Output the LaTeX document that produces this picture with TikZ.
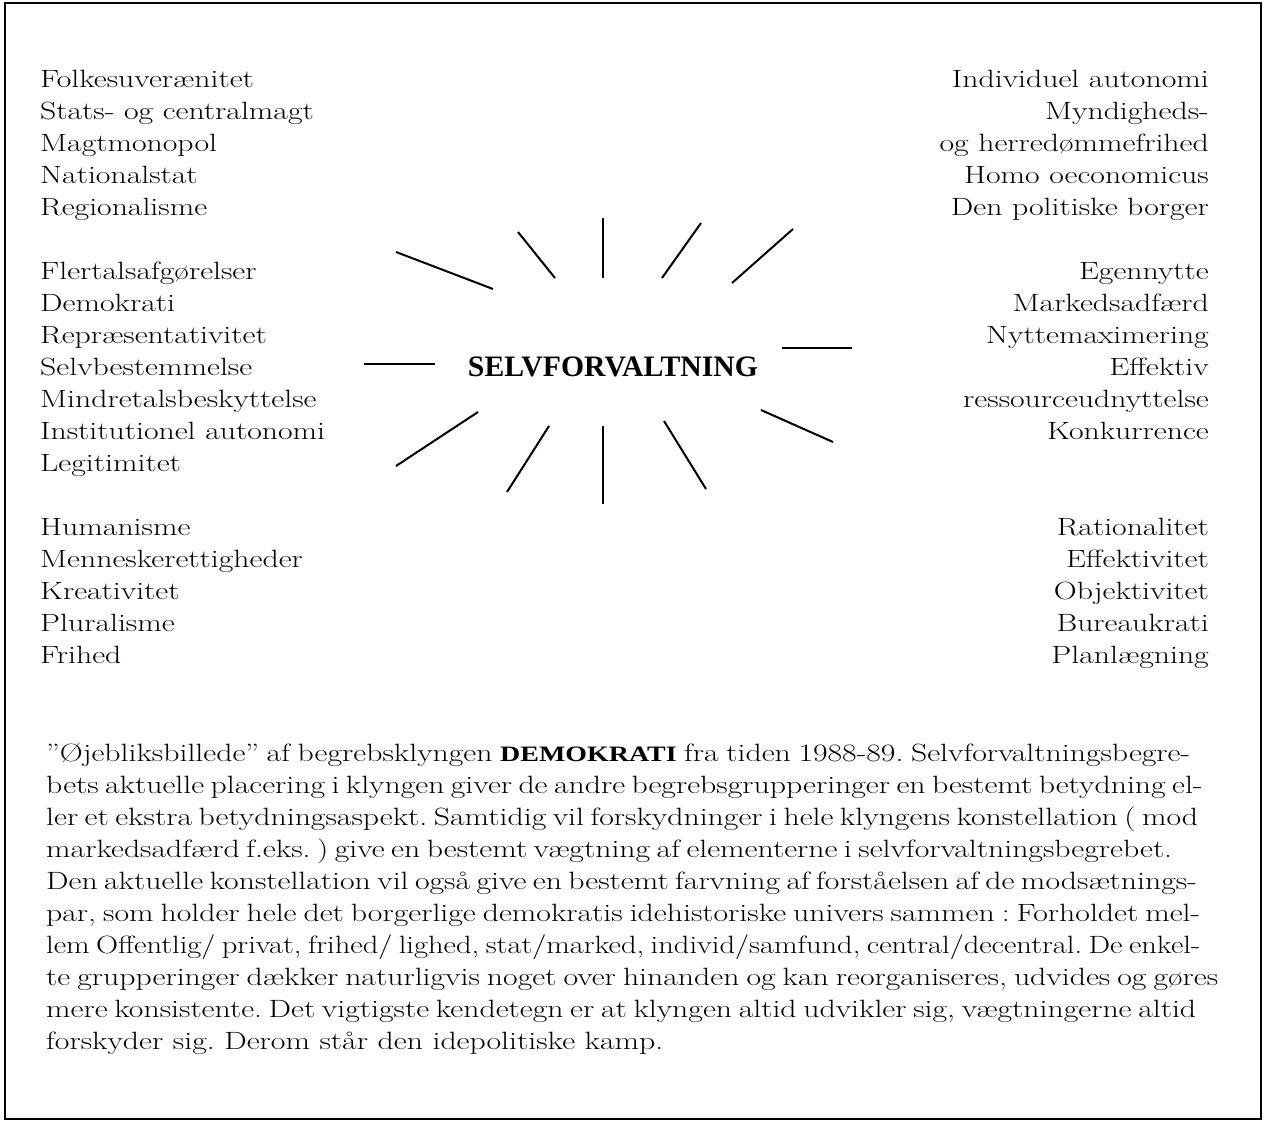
\documentclass[tikz,border=0pt]{standalone}
\usepackage{fontspec}
\usepackage{graphicx}
\setmainfont{Latin Modern Roman}
\newfontfamily\headfont{Liberation Serif}
\newcommand\sx[1]{\scalebox{1.27}[1]{#1}}
\newcommand\pl[2]{\scalebox{1.27}[1]{\hbox to \dimexpr #1pt*100/127\relax{#2}}}
\newcommand\plx[3]{\scalebox{#1}[1]{\hbox to \dimexpr #2pt*100/#3\relax{}}}
\newcommand\demo{{\headfont\bfseries\fontsize{22}{32}\selectfont DEMOKRATI}}
\frenchspacing
\begin{document}
\begin{tikzpicture}[x=1pt,y=-1pt,
  ray/.style={line width=2pt},
  item/.style={inner sep=0pt, font=\fontsize{25}{32}\selectfont},
  ltxt/.style={item, anchor=base west},
  rtxt/.style={item, anchor=base east},
  head/.style={inner sep=0pt, font=\headfont\bfseries\fontsize{29.7}{30}\selectfont}]
\fill[white] (0,0) rectangle (1266,1122);
\useasboundingbox (0,0) rectangle (1266,1122);
\draw[line width=2.5pt] (5,3) rectangle (1261,1119);

% left column
\foreach \t [count=\i] in {Folkesuverænitet, Stats- og centralmagt, Magtmonopol, Nationalstat, Regionalisme}
  \node[ltxt] (la\i) at (40,{87+32*(\i-1)}) {\sx{\t}};
\foreach \t [count=\i] in {Flertalsafgørelser, Demokrati, Repræsentativitet, Selvbestemmelse, Mindretalsbeskyttelse, Institutionel autonomi, Legitimitet}
  \node[ltxt] (lb\i) at (40,{279+32*(\i-1)}) {\sx{\t}};
\foreach \t [count=\i] in {Humanisme, Menneskerettigheder, Kreativitet, Pluralisme, Frihed}
  \node[ltxt] (lc\i) at (40,{535+32*(\i-1)}) {\sx{\t}};

% right column
\foreach \t [count=\i] in {Individuel autonomi, Myndigheds-, og herredømmefrihed, Homo oeconomicus, Den politiske borger}
  \node[rtxt] (ra\i) at (1209,{87+32*(\i-1)}) {\sx{\t}};
\foreach \t [count=\i] in {Egennytte, Markedsadfærd, Nyttemaximering, Effektiv, ressourceudnyttelse, Konkurrence}
  \node[rtxt] (rb\i) at (1209,{279+32*(\i-1)}) {\sx{\t}};
\foreach \t [count=\i] in {Rationalitet, Effektivitet, Objektivitet, Bureaukrati, Planlægning}
  \node[rtxt] (rc\i) at (1209,{535+32*(\i-1)}) {\sx{\t}};

% centre
\node[head] (c) at (613,366.5) {SELVFORVALTNING};

% rays
\draw[ray] (396,252) -- (493,289);
\draw[ray] (518,232) -- (555,278);
\draw[ray] (603,218) -- (603,278);
\draw[ray] (701,223) -- (662,278);
\draw[ray] (793,229) -- (732,283);
\draw[ray] (782,348) -- (852,348);
\draw[ray] (364,364) -- (435,364);
\draw[ray] (478,412) -- (396,466);
\draw[ray] (549,426) -- (507,492);
\draw[ray] (603,426) -- (603,504);
\draw[ray] (664,421) -- (706,489);
\draw[ray] (761,410) -- (833,442);

% paragraph
\node[ltxt] (p1) at (46,761) {\pl{1144}{”Øjebliksbillede” af begrebsklyngen \demo{} fra tiden 1988-89. Selvforvaltningsbegre-}};
\node[ltxt] (p2) at (46,793) {\pl{1152}{bets aktuelle placering i klyngen giver de andre begrebsgrupperinger en bestemt betydning el-}};
\node[ltxt] (p3) at (46,825) {\pl{1152}{ler et ekstra betydningsaspekt. Samtidig vil forskydninger i hele klyngens konstellation ( mod}};
\node[ltxt] (p4) at (46,857) {\pl{1126}{markedsadfærd f.eks. ) give en bestemt vægtning af elementerne i selvforvaltningsbegrebet.}};
\node[ltxt] (p5) at (46,889) {\pl{1139}{Den aktuelle konstellation vil også give en bestemt farvning af forståelsen af de modsætnings-}};
\node[ltxt] (p6) at (46,921) {\pl{1154}{par, som holder hele det borgerlige demokratis idehistoriske univers sammen : Forholdet mel-}};
\node[ltxt] (p7) at (46,953) {\scalebox{1.22}[1]{\hbox to \dimexpr 1154pt*100/122\relax{lem Offentlig/ privat, frihed/ lighed, stat/marked, individ/samfund, central/decentral. De enkel-}}};
\node[ltxt] (p8) at (46,985) {\pl{1172}{te grupperinger dækker naturligvis noget over hinanden og kan reorganiseres, udvides og gøres}};
\node[ltxt] (p9) at (46,1017) {\pl{1150}{mere konsistente. Det vigtigste kendetegn er at klyngen altid udvikler sig, vægtningerne altid}};
\node[ltxt] (p10) at (46,1049) {\sx{forskyder sig. Derom står den idepolitiske kamp.}};
\end{tikzpicture}
\end{document}
